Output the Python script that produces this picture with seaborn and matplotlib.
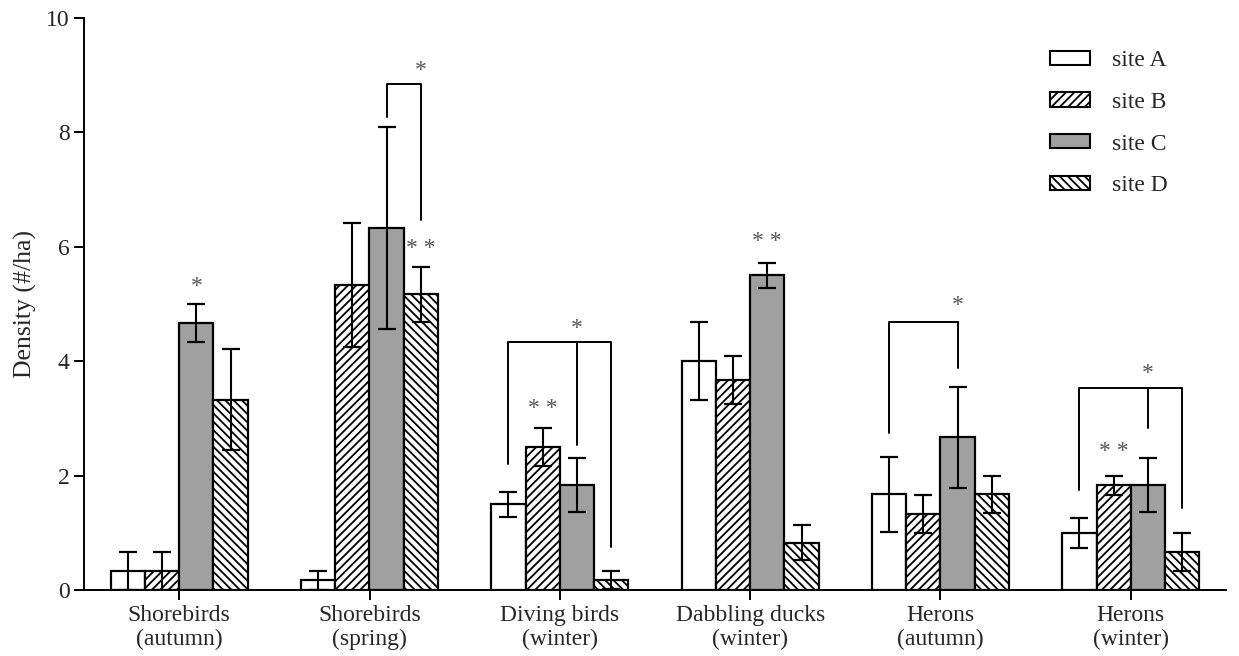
import matplotlib
matplotlib.use("Agg")
import matplotlib.pyplot as plt
from matplotlib.patches import Patch
import numpy as np
import pandas as pd
import seaborn as sns

# Bird densities by guild/season at four sites (mean and SE)
groups = ["Shorebirds\n(autumn)", "Shorebirds\n(spring)", "Diving birds\n(winter)",
          "Dabbling ducks\n(winter)", "Herons\n(autumn)", "Herons\n(winter)"]
sites = ["site A", "site B", "site C", "site D"]

site_a = [0.33, 0.17, 1.50, 4.00, 1.67, 1.00]
site_b = [0.33, 5.33, 2.50, 3.67, 1.33, 1.83]
site_c = [4.67, 6.33, 1.83, 5.50, 2.67, 1.83]
site_d = [3.33, 5.17, 0.17, 0.83, 1.67, 0.67]

se_a = [0.33, 0.17, 0.22, 0.68, 0.66, 0.26]
se_b = [0.33, 1.08, 0.34, 0.42, 0.33, 0.17]
se_c = [0.33, 1.76, 0.47, 0.22, 0.88, 0.47]
se_d = [0.88, 0.48, 0.16, 0.30, 0.33, 0.33]

means = [site_a, site_b, site_c, site_d]
errors = [se_a, se_b, se_c, se_d]

df = pd.DataFrame({
    "group": np.repeat([groups], 4, axis=0).ravel(),
    "site": np.repeat(sites, len(groups)),
    "density": np.ravel(means),
})

sns.set_style("ticks")
plt.rcParams["font.family"] = ["Liberation Serif", "DejaVu Serif"]
plt.rcParams["hatch.linewidth"] = 1.3

fill_colors = ["white", "white", "#a0a0a0", "white"]
hatches = ["", "////", "", "\\\\\\\\"]

fig = plt.figure(figsize=(12.39, 6.56), dpi=100)
ax = fig.add_axes([84 / 1239, 1 - 590 / 656, (1226 - 84) / 1239, (590 - 18) / 656])

sns.barplot(data=df, x="group", y="density", hue="site", hue_order=sites,
            order=groups, palette=fill_colors, saturation=1, width=0.72,
            edgecolor="black", linewidth=1.6, errorbar=None, legend=False, ax=ax)

bar_containers = list(ax.containers)
centers = []
for i, cont in enumerate(bar_containers):
    xs = []
    for bar in cont.patches:
        bar.set_hatch(hatches[i])
        bar.set_edgecolor("black")
        xs.append(bar.get_x() + bar.get_width() / 2)
    centers.append(xs)

for i in range(4):
    ax.errorbar(centers[i], means[i], yerr=errors[i], fmt="none", ecolor="black",
                elinewidth=1.5, capsize=6.5, capthick=1.6, zorder=5)

ax.set_ylim(0, 10)
ax.set_xlim(-0.5, 5.5)
ax.set_yticks([0, 2, 4, 6, 8, 10])
ax.set_xlabel("")
ax.set_ylabel("Density (#/ha)", fontsize=18.5, labelpad=6)
ax.tick_params(axis="both", length=7, width=1.4, labelsize=17, color="black")
ax.tick_params(axis="x", pad=4)
for lab in ax.get_xticklabels():
    lab.set_linespacing(1.15)
for side in ["left", "bottom"]:
    ax.spines[side].set_linewidth(1.4)
    ax.spines[side].set_color("black")
sns.despine(ax=ax)


# Significance brackets and stars
def bracket(legs, top, star_y, star_x=None):
    xs = [centers[s][g] for s, g, _ in legs]
    ax.plot([min(xs), max(xs)], [top, top], color="black", lw=1.4, zorder=6,
            solid_capstyle="butt")
    for (s, g, bottom) in legs:
        x = centers[s][g]
        ax.plot([x, x], [bottom, top], color="black", lw=1.4, zorder=6)
    sx = star_x if star_x is not None else xs[-1]
    ax.text(sx, star_y, "*", ha="center", va="center", fontsize=17, color="#555555")


def stars(s, g, y, txt):
    ax.text(centers[s][g], y, txt, ha="center", va="center", fontsize=17,
            color="#555555")


stars(2, 0, 5.30, "*")
bracket([(2, 1, 8.27), (3, 1, 6.47)], 8.84, 9.08)
stars(3, 1, 5.97, "* *")
bracket([(0, 2, 2.21), (2, 2, 2.53), (3, 2, 0.76)], 4.34, 4.57,
        star_x=centers[2][2])
stars(1, 2, 3.17, "* *")
stars(2, 3, 6.09, "* *")
bracket([(0, 4, 2.74), (2, 4, 3.88)], 4.68, 4.98)
bracket([(0, 5, 1.74), (2, 5, 2.83), (3, 5, 1.43)], 3.54, 3.79,
        star_x=centers[2][5])
stars(1, 5, 2.43, "* *")

handles = [Patch(facecolor=fill_colors[i], edgecolor="black", hatch=hatches[i],
                 linewidth=1.5, label=sites[i]) for i in range(4)]
ax.legend(handles=handles, loc="upper left", frameon=False, fontsize=17,
          bbox_to_anchor=(1050 / 1239, 1 - 50 / 656), bbox_transform=fig.transFigure,
          borderpad=0, borderaxespad=0, handlelength=1.7, handleheight=0.55,
          handletextpad=0.93, labelspacing=0.88)

fig.savefig("out.png", dpi=100)
